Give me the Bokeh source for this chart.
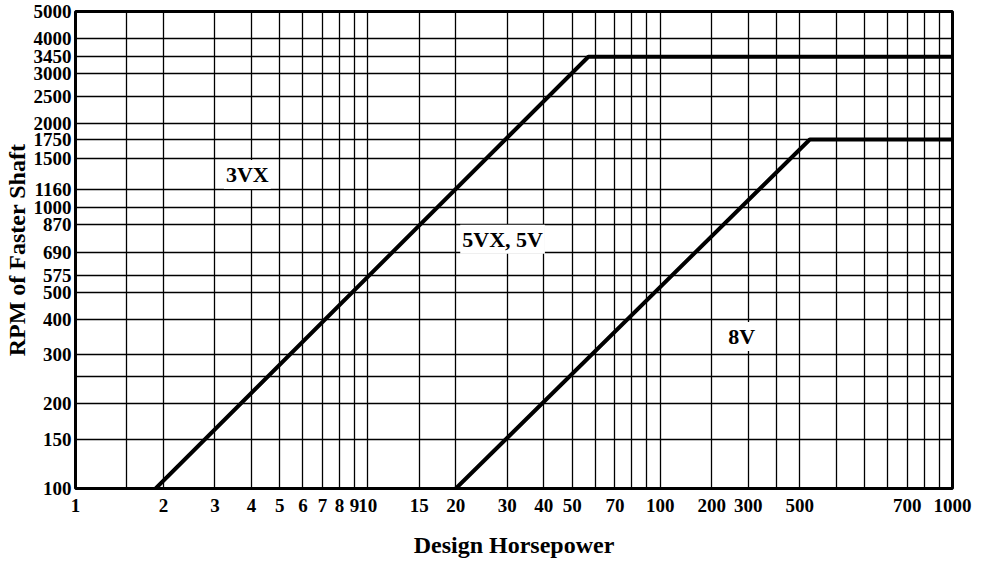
from bokeh.plotting import figure
from bokeh.models import Range1d, FixedTicker, Label
from bokeh.embed import file_html
from bokeh.resources import INLINE

# Boundary lines of the belt-section regions (Design HP, RPM of faster shaft)
line_a_hp = [1.88, 56.8, 1000]
line_a_rpm = [100, 3450, 3450]
line_b_hp = [20, 325, 1000]
line_b_rpm = [100, 1750, 1750]

# Tick labels as printed on the chart
x_tick_values = [1, 2, 3, 4, 5, 6, 7, 8, 9, 10, 15, 20, 30, 40, 50, 70, 100, 150, 200, 300, 700, 1000]
x_tick_labels = ["1", "2", "3", "4", "5", "6", "7", "8", "9", "10", "15", "20", "30", "40", "50", "70",
                 "100", "200", "300", "500", "700", "1000"]
y_tick_values = [100, 150, 200, 300, 400, 500, 575, 690, 870, 1000, 1160, 1500, 1750, 2000, 2500,
                 3000, 3450, 4000, 5000]
y_tick_labels = [str(v) for v in y_tick_values]

# Grid lines
x_grid_values = [1.5, 2, 3, 4, 5, 6, 7, 8, 9, 10, 15, 20, 30, 40, 50, 60, 70, 80, 90, 100,
                 150, 200, 250, 300, 400, 500, 600, 700, 800, 900]
y_grid_values = [150, 200, 250, 300, 400, 500, 575, 690, 870, 1000, 1160, 1500, 1750, 2000, 2500,
                 3000, 3450, 4000]

# Region names
region_names = ["3VX", "5VX, 5V", "8V"]
region_hp = [3.87, 28.9, 190]
region_rpm = [1314, 773, 348]

FONT = "Liberation Serif"

p = figure(width=976, height=564, x_axis_type="log", y_axis_type="log",
           x_range=Range1d(1, 1000), y_range=Range1d(100, 5000),
           output_backend="svg", toolbar_location=None,
           min_border_left=69, min_border_right=24, min_border_top=11, min_border_bottom=76)

p.background_fill_color = "white"
p.border_fill_color = "white"
p.outline_line_color = "black"
p.outline_line_width = 3
p.outline_line_alpha = 1

# grids
p.xgrid.ticker = FixedTicker(ticks=x_grid_values)
p.ygrid.ticker = FixedTicker(ticks=y_grid_values)
for g in (p.xgrid, p.ygrid):
    g.grid_line_color = "black"
    g.grid_line_alpha = 1
    g.grid_line_width = 1.3

# axes
p.xaxis.ticker = FixedTicker(ticks=x_tick_values)
p.xaxis.major_label_overrides = dict(zip(x_tick_values, x_tick_labels))
p.yaxis.ticker = FixedTicker(ticks=y_tick_values)
p.yaxis.major_label_overrides = dict(zip(y_tick_values, y_tick_labels))

for ax in (p.xaxis, p.yaxis):
    ax.axis_line_color = None
    ax.major_tick_line_color = None
    ax.minor_tick_line_color = None
    ax.major_tick_out = 0
    ax.major_tick_in = 0
    ax.major_label_text_font = FONT
    ax.major_label_text_font_style = "bold"
    ax.major_label_text_font_size = "19px"
    ax.major_label_text_color = "black"
    ax.axis_label_text_font = FONT
    ax.axis_label_text_font_style = "bold"
    ax.axis_label_text_color = "black"

p.xaxis.axis_label = "Design Horsepower"
p.xaxis.axis_label_text_font_size = "24px"
p.xaxis.major_label_standoff = 10
p.xaxis.axis_label_standoff = 17

p.yaxis.axis_label = "RPM of Faster Shaft"
p.yaxis.axis_label_text_font_size = "24px"
p.yaxis.major_label_standoff = 4
p.yaxis.axis_label_standoff = 1

# boundary lines
p.line(line_a_hp, line_a_rpm, line_color="black", line_width=4)
p.line(line_b_hp, line_b_rpm, line_color="black", line_width=4)

# region labels
for name, hx, ry in zip(region_names, region_hp, region_rpm):
    p.add_layout(Label(x=hx, y=ry, text=name, text_align="center", text_baseline="middle",
                       text_font=FONT, text_font_style="bold", text_font_size="22px",
                       text_color="black", background_fill_color="white", padding=2))

open("out.html", "w").write(file_html(p, INLINE))
